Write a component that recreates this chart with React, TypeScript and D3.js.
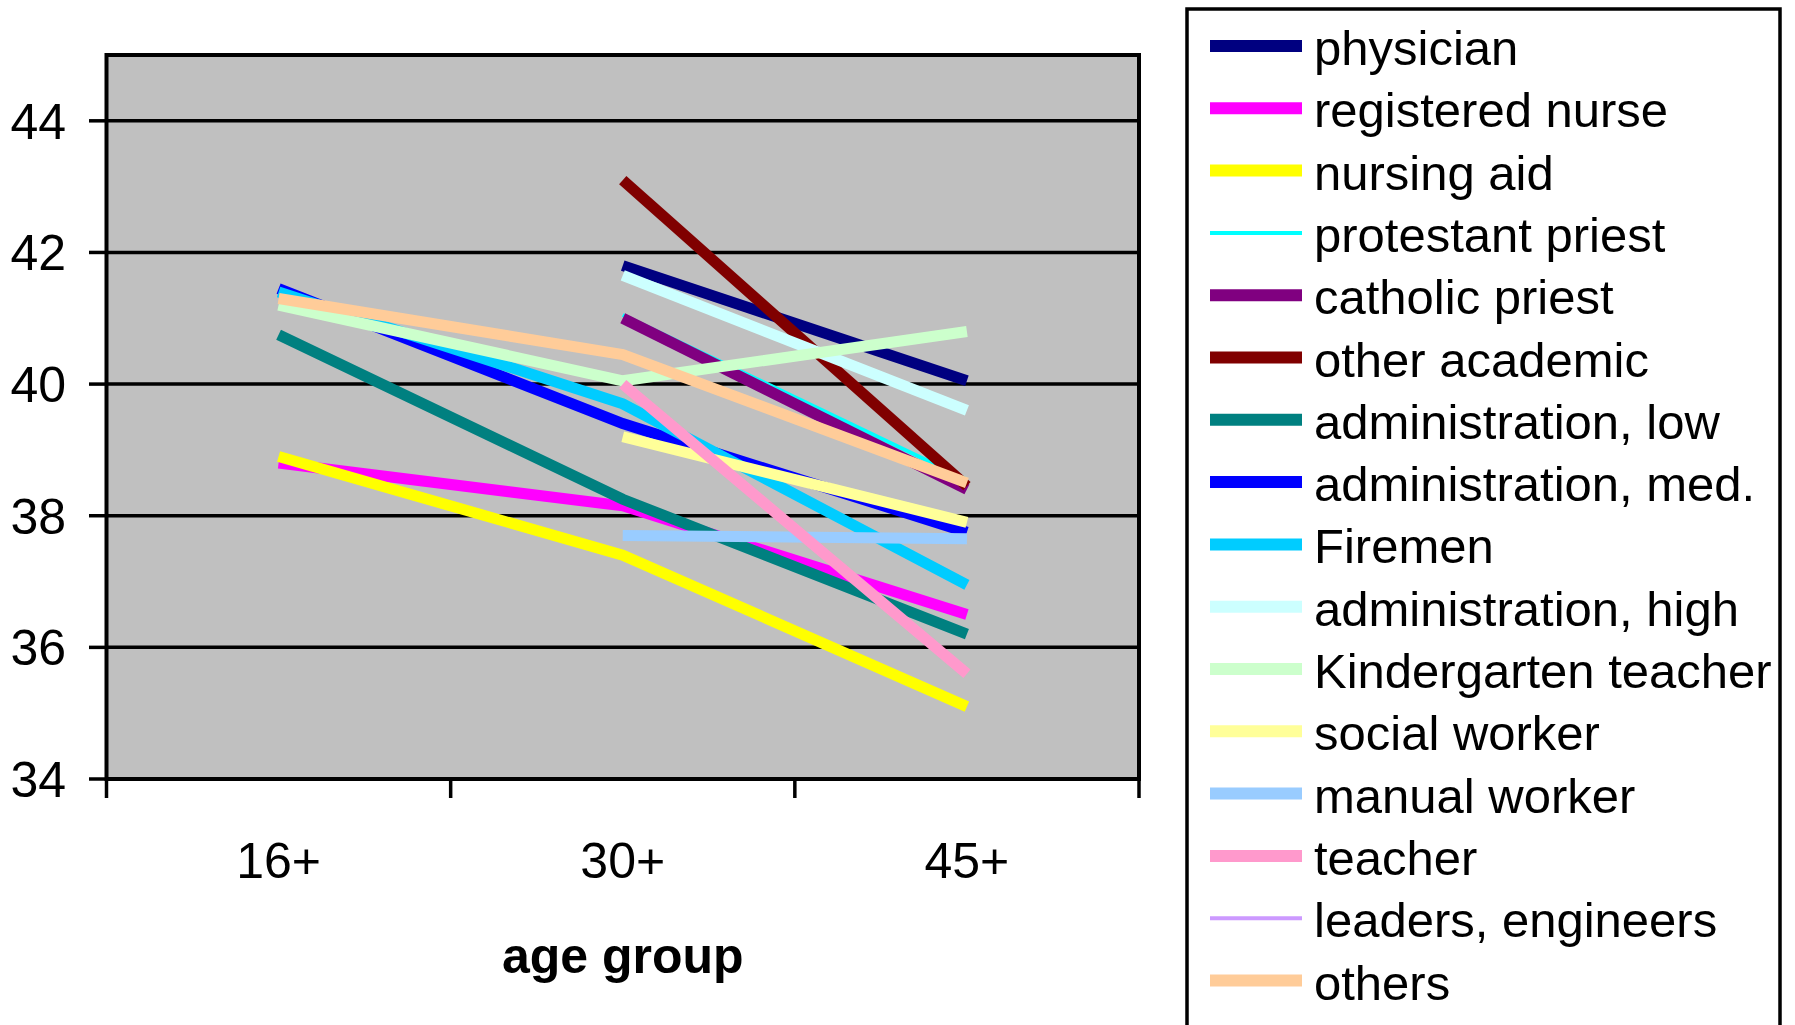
import React from "react";
import * as d3 from "d3";

const categories = ["16+", "30+", "45+"];
const seriesNames = [
  "physician",
  "registered nurse",
  "nursing aid",
  "protestant priest",
  "catholic priest",
  "other academic",
  "administration, low",
  "administration, med.",
  "Firemen",
  "administration, high",
  "Kindergarten teacher",
  "social worker",
  "manual worker",
  "teacher",
  "leaders, engineers",
  "others",
];
const physician = [null, 41.8, 40.05];
const registeredNurse = [38.8, 38.15, 36.5];
const nursingAid = [38.9, 37.4, 35.1];
const protestantPriest = [null, 41.05, 38.55];
const catholicPriest = [null, 41.0, 38.4];
const otherAcademic = [null, 43.1, 38.45];
const adminLow = [40.75, 38.25, 36.2];
const adminMed = [41.45, 39.4, 37.75];
const firemen = [41.4, 39.7, 36.95];
const adminHigh = [null, 41.65, 39.6];
const kindergarten = [41.2, 40.05, 40.8];
const socialWorker = [null, 39.2, 37.9];
const manualWorker = [null, 37.7, 37.65];
const teacher = [null, 40.0, 35.6];
const leadersEngineers = [null, null, null];
const others = [41.3, 40.45, 38.5];

const seriesValues = [
  physician, registeredNurse, nursingAid, protestantPriest, catholicPriest,
  otherAcademic, adminLow, adminMed, firemen, adminHigh, kindergarten,
  socialWorker, manualWorker, teacher, leadersEngineers, others,
];
const yTicks = [34, 36, 38, 40, 42, 44];

const seriesColors = [
  "#000080", "#FF00FF", "#FFFF00", "#00FFFF", "#800080", "#800000",
  "#008080", "#0000FF", "#00CCFF", "#CCFFFF", "#CCFFCC", "#FFFF99",
  "#99CCFF", "#FF99CC", "#CC99FF", "#FFCC99",
];
const thinSeries = new Set([3, 14]);

const FONT = "'Liberation Sans', Arial, sans-serif";

export default function App() {
  const left = 106.5, right = 1139, top = 55, bottom = 779;
  const x = d3.scalePoint<string>().domain(categories).range([left, right]).padding(0.5);
  const band = d3.scaleBand<string>().domain(categories).range([left, right]);
  const y = d3.scaleLinear().domain([34, 45]).range([bottom, top]);
  const line = d3
    .line<number | null>()
    .defined((d) => d !== null)
    .x((_, i) => x(categories[i]) as number)
    .y((d) => y(d as number));

  const bounds = [...categories.map((c) => band(c) as number), right];

  const legendX = 1187, legendTop = 9, legendRight = 1780;
  const rowY = (i: number) => 46 + i * 62.3;

  return (
    <svg width={1795} height={1025} style={{ position: "absolute", left: 0, top: 0, background: "#fff" }}>
      <rect x={left} y={top} width={right - left} height={bottom - top} fill="#C0C0C0" />
      {yTicks.map((t) => (
        <g key={t}>
          <line x1={left} x2={right} y1={y(t)} y2={y(t)} stroke="#000" strokeWidth={3.5} />
          <line x1={89} x2={left} y1={y(t)} y2={y(t)} stroke="#000" strokeWidth={3.5} />
          <text x={66} y={y(t)} dy="0.36em" textAnchor="end" fontFamily={FONT} fontSize={50}>
            {t}
          </text>
        </g>
      ))}
      <rect x={left} y={top} width={right - left} height={bottom - top} fill="none" stroke="#000" strokeWidth={4} />
      {bounds.map((b, i) => (
        <line key={i} x1={b} x2={b} y1={bottom} y2={798} stroke="#000" strokeWidth={3.5} />
      ))}
      {categories.map((c) => (
        <text key={c} x={x(c)} y={878} textAnchor="middle" fontFamily={FONT} fontSize={50}>
          {c}
        </text>
      ))}
      <text x={(left + right) / 2} y={973} textAnchor="middle" fontFamily={FONT} fontSize={50} fontWeight="bold">
        age group
      </text>
      {seriesValues.map((vals, i) => (
        <path
          key={i}
          d={line(vals) || ""}
          fill="none"
          stroke={seriesColors[i]}
          strokeWidth={thinSeries.has(i) ? 4 : 11}
          strokeLinecap="butt"
          strokeLinejoin="miter"
        />
      ))}
      <rect x={legendX} y={legendTop} width={legendRight - legendX} height={1060} fill="#fff" stroke="#000" strokeWidth={3.5} />
      {seriesNames.map((n, i) => (
        <g key={n}>
          <line x1={1210} x2={1302} y1={rowY(i)} y2={rowY(i)} stroke={seriesColors[i]} strokeWidth={thinSeries.has(i) ? 4 : 12} />
          <text x={1314} y={rowY(i) + 19} fontFamily={FONT} fontSize={49}>
            {n}
          </text>
        </g>
      ))}
    </svg>
  );
}
